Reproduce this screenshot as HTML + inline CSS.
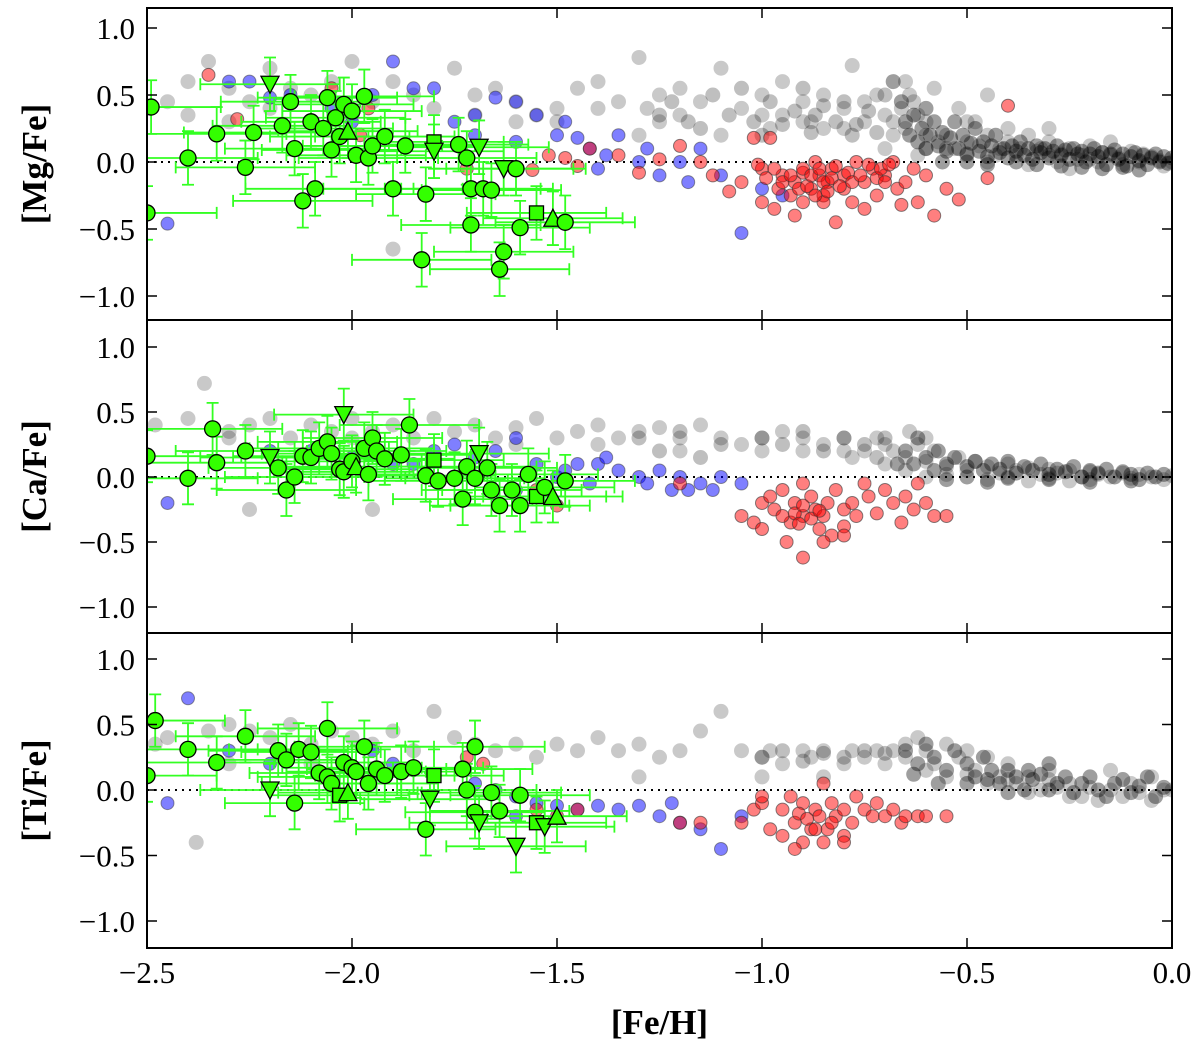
<!DOCTYPE html>
<html><head><meta charset="utf-8"><style>
body{margin:0;background:#fff;}
svg{display:block;font-family:"Liberation Serif",serif;}
</style></head><body>
<svg id="chart" width="1200" height="1047" xmlns="http://www.w3.org/2000/svg"></svg>
<script>
const xTicks=[-2.5,-2.0,-1.5,-1.0,-0.5,0.0];
const xTickLabels=["\u22122.5","\u22122.0","\u22121.5","\u22121.0","\u22120.5","0.0"];
const yTicks=[1.0,0.5,0.0,-0.5,-1.0];
const yTickLabels=["1.0","0.5","0.0","\u22120.5","\u22121.0"];
const panelLabels=["[Mg/Fe]","[Ca/Fe]","[Ti/Fe]"];
const grayMg=[[-2.45,0.45],[-2.4,0.6],[-2.35,0.75],[-2.3,0.55],[-2.25,0.45],[-2.2,0.7],[-2.15,0.55],[-2.1,0.5],[-2.05,0.6],[-2.0,0.75],[-1.95,0.45],[-1.9,0.6],[-1.85,0.5],[-1.8,0.4],[-1.75,0.7],[-1.7,0.5],[-1.65,0.55],[-1.6,0.45],[-1.55,0.35],[-1.5,0.3],[-1.45,0.55],[-1.4,0.6],[-1.35,0.45],[-1.3,0.78],[-1.28,0.4],[-1.25,0.3],[-1.2,0.55],[-1.15,0.45],[-1.1,0.7],[-1.05,0.4],[-1.0,0.5],[-0.98,0.25],[-0.95,0.6],[-0.9,0.45],[-0.88,0.3],[-0.85,0.5],[-0.8,0.4],[-0.78,0.72],[-0.75,0.3],[-0.72,0.5],[-0.7,0.35],[-0.68,0.2],[-0.65,0.6],[-0.63,0.45],[-0.6,0.3],[-0.58,0.55],[-0.55,0.2],[-0.52,0.4],[-0.5,0.15],[-0.48,0.3],[-0.45,0.5],[-0.42,0.1],[-0.4,0.25],[-0.38,0.05],[-0.35,0.2],[-0.32,0.1],[-0.3,0.15],[-0.28,0.0],[-0.25,0.1],[-0.22,0.05],[-0.2,0.12],[-0.18,0.0],[-0.15,0.05],[-0.12,-0.02],[-0.1,0.08],[-0.08,0.0],[-0.05,0.04],[-0.02,-0.03],[0,0.0],[-0.6,0.1],[-0.55,0.1],[-0.65,0.25],[-0.7,0.1],[-0.5,0.05],[-0.45,0.0],[-0.4,0.15],[-0.35,-0.02],[-0.3,0.05],[-0.25,-0.05],[-0.2,0.02],[-1.9,-0.65],[-2.3,0.3],[-2.0,0.35],[-1.7,0.35],[-1.5,0.4],[-1.3,0.2],[-1.2,0.35],[-1.1,0.2],[-0.95,0.35],[-0.85,0.25],[-0.75,0.45],[-0.62,0.35],[-0.6,0.2],[-0.57,0.15],[-0.53,0.1],[-0.47,0.12],[-0.43,0.05],[-0.37,0.1],[-0.33,0.08],[-0.27,0.06],[-0.23,0.02],[-0.17,0.07],[-0.13,0.03],[-0.07,0.06],[-0.03,0.01],[-0.62,0.05],[-0.66,0.4],[-0.64,0.5],[-0.68,0.3],[-0.8,0.25],[-0.9,0.3],[-1.0,0.35],[-1.25,0.5],[-1.4,0.4],[-1.6,0.3],[-2.2,0.4],[-2.4,0.35],[-0.15,0.15],[-0.3,0.25],[-0.45,0.2],[-0.5,0.3]];
const grayMgBand=[[-0.65,0.3],[-0.64,0.2],[-0.63,0.35],[-0.62,0.15],[-0.61,0.25],[-0.6,0.4],[-0.6,0.1],[-0.59,0.2],[-0.58,0.3],[-0.57,0.12],[-0.56,0.22],[-0.55,0.08],[-0.54,0.18],[-0.53,0.3],[-0.52,0.1],[-0.51,0.2],[-0.5,0.06],[-0.49,0.14],[-0.48,0.25],[-0.47,0.08],[-0.46,0.15],[-0.45,0.04],[-0.44,0.12],[-0.43,0.2],[-0.42,0.07],[-0.41,0.1],[-0.4,0.03],[-0.39,0.12],[-0.38,0.08],[-0.37,0.15],[-0.36,0.05],[-0.35,0.1],[-0.34,0.02],[-0.33,0.12],[-0.32,0.07],[-0.31,0.1],[-0.3,0.03],[-0.29,0.08],[-0.28,0.12],[-0.27,0.05],[-0.26,0.09],[-0.25,0.02],[-0.24,0.1],[-0.23,0.06],[-0.22,0.08],[-0.21,0.0],[-0.2,0.06],[-0.19,0.1],[-0.18,0.04],[-0.17,0.07],[-0.16,-0.02],[-0.15,0.06],[-0.14,0.09],[-0.13,0.02],[-0.12,0.06],[-0.11,-0.03],[-0.1,0.04],[-0.09,0.07],[-0.08,0.01],[-0.07,0.05],[-0.06,-0.02],[-0.05,0.03],[-0.04,0.06],[-0.03,0.0],[-0.02,0.04],[-0.01,-0.01],[0,0.03],[-0.56,0.0],[-0.5,0.0],[-0.45,-0.02],[-0.38,0.0],[-0.33,-0.02],[-0.27,-0.03],[-0.22,-0.04],[-0.17,-0.05],[-0.12,-0.04],[-0.08,-0.06],[-1.25,0.35],[-1.22,0.45],[-1.18,0.3],[-1.15,0.25],[-1.12,0.5],[-1.08,0.35],[-1.05,0.55],[-1.02,0.3],[-0.98,0.45],[-0.95,0.28],[-0.92,0.38],[-0.9,0.55],[-0.87,0.35],[-0.85,0.42],[-0.82,0.3],[-0.8,0.45],[-0.77,0.28],[-0.74,0.38],[-0.7,0.5],[-0.68,0.6],[-0.66,0.45],[-0.72,0.22],[-0.78,0.2],[-0.88,0.22],[-1.0,0.2]];
const grayCa=[[-2.48,0.4],[-2.4,0.45],[-2.36,0.72],[-2.3,0.35],[-2.25,0.4],[-2.2,0.45],[-2.15,0.3],[-2.1,0.4],[-2.05,0.35],[-2.0,0.45],[-1.95,0.35],[-1.9,0.4],[-1.85,0.3],[-1.8,0.45],[-1.75,0.35],[-1.7,0.4],[-1.65,0.3],[-1.6,0.38],[-1.55,0.45],[-1.5,0.3],[-1.45,0.35],[-1.4,0.4],[-1.35,0.3],[-1.3,0.35],[-1.25,0.38],[-1.2,0.3],[-1.15,0.4],[-1.1,0.3],[-1.05,0.25],[-1.0,0.3],[-0.95,0.35],[-0.9,0.3],[-0.85,0.25],[-0.8,0.3],[-0.78,0.15],[-0.75,0.2],[-0.72,0.3],[-0.7,0.1],[-0.68,0.2],[-0.65,0.15],[-0.62,0.25],[-0.6,0.12],[-0.58,0.2],[-0.55,0.08],[-0.52,0.15],[-0.5,0.05],[-0.48,0.12],[-0.45,0.08],[-0.42,0.03],[-0.4,0.1],[-0.38,0.05],[-0.35,0.07],[-0.32,0.02],[-0.3,0.06],[-0.28,0.03],[-0.25,0.05],[-0.22,0.0],[-0.2,0.04],[-0.18,0.02],[-0.15,0.0],[-0.12,0.03],[-0.1,-0.01],[-0.08,0.02],[-0.05,0.0],[-0.02,-0.02],[0,0.01],[-2.25,-0.25],[-1.95,-0.25],[-0.65,0.05],[-0.6,0.0],[-0.55,0.02],[-0.45,-0.02],[-0.4,0.0],[-0.35,-0.03],[-0.3,-0.01],[-0.25,-0.03],[-0.2,-0.02],[-0.6,0.3],[-0.64,0.35],[-0.7,0.25],[-0.8,0.2],[-0.9,0.2],[-1.0,0.2],[-1.2,0.2],[-1.4,0.25],[-1.6,0.25],[-2.0,0.3],[-2.3,0.3]];
const grayCaBand=[[-0.65,0.2],[-0.63,0.1],[-0.62,0.3],[-0.6,0.15],[-0.58,0.05],[-0.57,0.2],[-0.55,0.1],[-0.53,0.15],[-0.5,0.08],[-0.48,0.12],[-0.46,0.05],[-0.44,0.1],[-0.42,0.06],[-0.4,0.12],[-0.38,0.03],[-0.36,0.08],[-0.34,0.05],[-0.32,0.1],[-0.3,0.02],[-0.28,0.06],[-0.26,0.04],[-0.24,0.08],[-0.22,0.0],[-0.2,0.05],[-0.18,0.03],[-0.16,0.06],[-0.14,0.0],[-0.12,0.04],[-0.1,0.02],[-0.08,-0.02],[-0.06,0.03],[-0.04,0.0],[-0.02,0.02],[-0.55,-0.02],[-0.5,0.0],[-0.45,-0.04],[-0.4,-0.01],[-0.3,-0.02],[-0.2,-0.04],[-0.1,-0.03],[-1.3,0.3],[-1.2,0.35],[-1.1,0.25],[-1.0,0.3],[-0.95,0.25],[-0.9,0.35],[-0.85,0.2],[-0.8,0.3],[-0.75,0.25],[-0.7,0.3],[-1.25,0.2],[-1.15,0.15],[-0.72,0.15],[-0.67,0.1]];
const grayTi=[[-2.48,0.35],[-2.45,0.4],[-2.38,-0.4],[-2.35,0.45],[-2.3,0.5],[-2.25,0.45],[-2.2,0.4],[-2.15,0.5],[-2.1,0.35],[-2.05,0.45],[-2.0,0.4],[-1.95,0.35],[-1.9,0.45],[-1.85,0.3],[-1.8,0.6],[-1.75,0.4],[-1.7,0.35],[-1.65,0.3],[-1.6,0.35],[-1.55,0.25],[-1.5,0.35],[-1.45,0.3],[-1.4,0.4],[-1.35,0.3],[-1.3,0.35],[-1.25,0.25],[-1.2,0.3],[-1.15,0.45],[-1.1,0.6],[-1.05,0.3],[-1.0,0.25],[-0.98,0.3],[-0.95,0.2],[-0.9,0.3],[-0.88,0.25],[-0.85,0.3],[-0.8,0.2],[-0.78,0.3],[-0.75,0.25],[-0.72,0.3],[-0.7,0.2],[-0.68,0.3],[-0.65,0.25],[-0.62,0.4],[-0.6,0.3],[-0.58,0.2],[-0.55,0.35],[-0.52,0.25],[-0.5,0.3],[-0.48,0.15],[-0.45,0.25],[-0.42,0.1],[-0.4,0.2],[-0.38,0.05],[-0.35,0.1],[-0.32,0.0],[-0.3,0.08],[-0.28,0.02],[-0.25,0.05],[-0.22,-0.05],[-0.2,0.02],[-0.18,-0.08],[-0.15,0.0],[-0.12,-0.05],[-0.1,0.05],[-0.08,-0.02],[-0.05,0.1],[-0.02,0.0],[0,0.0],[-0.55,0.1],[-0.6,0.15],[-0.5,0.12],[-0.45,0.05],[-0.4,0.08],[-0.35,-0.02],[-0.3,0.15],[-0.25,-0.05],[-0.65,0.35],[-0.85,0.1],[-1.0,0.1],[-1.3,0.1],[-2.1,0.2],[-2.3,0.2],[-0.15,0.15],[-0.05,-0.08]];
const grayTiBand=[[-0.65,0.3],[-0.62,0.2],[-0.6,0.35],[-0.58,0.25],[-0.55,0.15],[-0.53,0.3],[-0.5,0.2],[-0.48,0.1],[-0.46,0.25],[-0.44,0.15],[-0.42,0.05],[-0.4,0.15],[-0.38,0.1],[-0.36,0.0],[-0.34,0.08],[-0.32,0.12],[-0.3,0.0],[-0.28,0.05],[-0.26,0.1],[-0.24,-0.02],[-0.22,0.05],[-0.2,0.1],[-0.18,0.0],[-0.16,-0.05],[-0.14,0.05],[-0.12,0.08],[-0.1,-0.02],[-0.08,0.03],[-0.06,0.1],[-0.04,-0.05],[-0.02,0.02],[-0.5,0.05],[-0.45,0.08],[-0.4,-0.02],[-0.35,0.15],[-0.3,0.2],[-1.0,0.25],[-0.95,0.3],[-0.9,0.22],[-0.85,0.28],[-0.8,0.25],[-0.75,0.3],[-0.7,0.28],[-0.63,0.12],[-0.57,0.05]];
const redMg=[[-2.35,0.65],[-2.28,0.32],[-2.05,0.55],[-1.96,0.4],[-1.98,0.2],[-1.72,-0.05],[-1.56,-0.06],[-1.52,0.05],[-1.48,0.03],[-1.45,-0.03],[-1.42,0.1],[-1.35,0.05],[-1.3,-0.08],[-1.25,0.02],[-1.2,0.12],[-1.15,0.0],[-1.12,-0.1],[-1.05,-0.15],[-1.02,0.18],[-1.0,-0.05],[-0.98,0.18],[-0.96,-0.2],[-0.95,-0.1],[-0.93,-0.25],[-0.92,-0.15],[-0.9,-0.08],[-0.9,-0.3],[-0.88,-0.2],[-0.87,0.0],[-0.86,-0.1],[-0.85,-0.25],[-0.84,-0.15],[-0.83,-0.05],[-0.82,-0.45],[-0.8,-0.2],[-0.8,-0.1],[-0.78,-0.3],[-0.77,0.0],[-0.75,-0.15],[-0.73,-0.05],[-0.72,-0.25],[-0.7,-0.1],[-0.68,0.0],[-0.67,-0.2],[-0.65,-0.15],[-0.63,-0.05],[-0.62,-0.3],[-0.6,-0.1],[-0.58,-0.4],[-0.55,-0.2],[-0.52,-0.28],[-0.45,-0.12],[-0.4,0.42],[-1.08,-0.22],[-0.97,-0.35],[-1.0,-0.3],[-0.92,-0.4],[-0.85,-0.3],[-0.75,-0.35],[-0.66,-0.32],[-0.95,-0.15],[-0.93,-0.1],[-0.91,-0.2],[-0.9,-0.05],[-0.89,-0.18],[-0.88,-0.1],[-0.87,-0.25],[-0.86,-0.05],[-0.85,-0.15],[-0.84,-0.22],[-0.83,-0.12],[-0.82,-0.03],[-0.81,-0.18],[-0.79,-0.08],[-0.78,-0.15],[-0.76,-0.1],[-0.74,-0.02],[-0.72,-0.12],[-0.71,-0.05],[-0.7,-0.15],[-0.69,-0.02],[-0.97,-0.05],[-0.99,-0.12],[-1.01,-0.02]];
const blueMg=[[-2.45,-0.46],[-2.3,0.6],[-2.25,0.6],[-2.2,0.48],[-2.15,0.5],[-2.05,0.4],[-2.0,0.3],[-1.95,0.5],[-1.9,0.75],[-1.85,0.55],[-1.8,0.55],[-1.75,0.3],[-1.7,0.35],[-1.65,0.48],[-1.6,0.45],[-1.55,0.35],[-1.5,0.2],[-1.48,0.3],[-1.45,0.18],[-1.42,0.1],[-1.4,-0.05],[-1.38,0.05],[-1.35,0.2],[-1.3,0.0],[-1.28,0.1],[-1.25,-0.1],[-1.2,0.0],[-1.18,-0.15],[-1.15,0.1],[-1.1,-0.1],[-1.05,-0.53],[-1.0,-0.2],[-0.95,-0.25],[-1.7,0.2],[-1.6,0.15]];
const redCa=[[-1.5,-0.22],[-1.55,-0.1],[-1.2,-0.05],[-1.05,-0.3],[-1.02,-0.35],[-1.0,-0.2],[-0.98,-0.15],[-0.97,-0.25],[-0.95,-0.1],[-0.94,-0.5],[-0.93,-0.35],[-0.92,-0.2],[-0.9,-0.62],[-0.9,-0.3],[-0.88,-0.15],[-0.87,-0.25],[-0.86,-0.4],[-0.85,-0.3],[-0.84,-0.2],[-0.83,-0.45],[-0.82,-0.1],[-0.8,-0.25],[-0.8,-0.38],[-0.78,-0.2],[-0.77,-0.3],[-0.75,-0.05],[-0.74,-0.15],[-0.72,-0.28],[-0.7,-0.1],[-0.68,-0.2],[-0.66,-0.35],[-0.65,-0.15],[-0.63,-0.25],[-0.6,-0.2],[-0.58,-0.3],[-0.55,-0.3],[-0.62,-0.05],[-0.9,-0.05],[-0.85,-0.5],[-0.8,-0.45],[-1.0,-0.4],[-0.95,-0.3],[-0.92,-0.28],[-0.9,-0.22],[-0.88,-0.32],[-0.86,-0.26],[-0.91,-0.36]];
const blueCa=[[-2.45,-0.2],[-2.2,0.2],[-2.1,0.2],[-2.0,0.15],[-1.95,0.25],[-1.9,0.1],[-1.85,0.1],[-1.8,0.2],[-1.75,0.25],[-1.7,0.15],[-1.65,0.2],[-1.6,0.3],[-1.55,0.1],[-1.5,0.0],[-1.48,0.05],[-1.45,0.1],[-1.42,-0.05],[-1.4,0.1],[-1.38,0.15],[-1.35,0.05],[-1.3,0.0],[-1.28,-0.05],[-1.25,0.05],[-1.22,-0.1],[-1.2,0.0],[-1.18,-0.1],[-1.15,-0.05],[-1.12,-0.1],[-1.1,0.0],[-1.05,-0.05],[-1.6,-0.1]];
const redTi=[[-1.72,0.25],[-1.68,0.2],[-1.55,-0.15],[-1.5,-0.2],[-1.45,-0.15],[-1.2,-0.25],[-1.15,-0.25],[-1.05,-0.25],[-1.02,-0.15],[-1.0,-0.1],[-0.98,-0.3],[-0.95,-0.15],[-0.93,-0.05],[-0.92,-0.25],[-0.9,-0.4],[-0.9,-0.1],[-0.88,-0.3],[-0.87,-0.15],[-0.86,-0.2],[-0.85,0.05],[-0.84,-0.3],[-0.83,-0.1],[-0.82,-0.2],[-0.8,-0.15],[-0.8,-0.35],[-0.78,-0.25],[-0.77,-0.05],[-0.75,-0.15],[-0.73,-0.2],[-0.72,-0.1],[-0.7,-0.2],[-0.68,-0.15],[-0.66,-0.25],[-0.65,-0.2],[-0.62,-0.2],[-0.6,-0.2],[-0.55,-0.2],[-0.92,-0.45],[-0.85,-0.4],[-0.8,-0.4],[-1.0,-0.05],[-0.95,-0.35],[-0.91,-0.18],[-0.89,-0.22],[-0.87,-0.3],[-0.83,-0.25]];
const blueTi=[[-2.45,-0.1],[-2.4,0.7],[-2.3,0.3],[-2.2,0.2],[-2.0,0.15],[-1.95,0.3],[-1.9,0.2],[-1.85,0.15],[-1.8,0.1],[-1.7,0.05],[-1.65,0.0],[-1.6,-0.05],[-1.55,-0.1],[-1.5,-0.12],[-1.45,-0.15],[-1.4,-0.12],[-1.35,-0.15],[-1.3,-0.12],[-1.25,-0.2],[-1.22,-0.1],[-1.2,-0.25],[-1.15,-0.3],[-1.1,-0.45],[-1.05,-0.2],[-1.6,-0.2]];
const greenMg=[[-2.49,0.41,"o"],[-2.5,-0.38,"o"],[-2.4,0.03,"o"],[-2.33,0.21,"o"],[-2.26,-0.04,"o"],[-2.24,0.22,"o"],[-2.2,0.58,"v"],[-2.17,0.27,"o"],[-2.15,0.45,"o"],[-2.14,0.1,"o"],[-2.12,-0.29,"o"],[-2.1,0.3,"o"],[-2.09,-0.2,"o"],[-2.07,0.25,"o"],[-2.06,0.48,"o"],[-2.05,0.09,"o"],[-2.04,0.33,"o"],[-2.03,0.19,"o"],[-2.02,0.43,"o"],[-2.01,0.23,"^"],[-2.0,0.38,"o"],[-1.99,0.05,"o"],[-1.97,0.49,"o"],[-1.96,0.03,"o"],[-1.95,0.12,"o"],[-1.92,0.19,"o"],[-1.9,-0.2,"o"],[-1.87,0.12,"o"],[-1.83,-0.73,"o"],[-1.82,-0.24,"o"],[-1.8,0.15,"s"],[-1.8,0.08,"v"],[-1.74,0.13,"o"],[-1.72,0.03,"o"],[-1.71,-0.2,"o"],[-1.71,-0.47,"o"],[-1.69,0.11,"v"],[-1.68,-0.2,"o"],[-1.66,-0.21,"o"],[-1.64,-0.8,"o"],[-1.63,-0.67,"o"],[-1.63,-0.05,"v"],[-1.6,-0.05,"o"],[-1.59,-0.49,"o"],[-1.55,-0.38,"s"],[-1.51,-0.42,"^"],[-1.48,-0.45,"o"]];
const greenCa=[[-2.5,0.16,"o"],[-2.4,-0.01,"o"],[-2.34,0.37,"o"],[-2.33,0.11,"o"],[-2.26,0.2,"o"],[-2.2,0.15,"v"],[-2.18,0.07,"o"],[-2.16,-0.1,"o"],[-2.14,0.0,"o"],[-2.12,0.16,"o"],[-2.1,0.15,"o"],[-2.08,0.22,"o"],[-2.06,0.27,"o"],[-2.05,0.18,"o"],[-2.03,0.06,"o"],[-2.02,0.04,"o"],[-2.02,0.48,"v"],[-2.0,0.12,"o"],[-1.99,0.08,"^"],[-1.97,0.22,"o"],[-1.96,0.02,"o"],[-1.95,0.3,"o"],[-1.94,0.2,"o"],[-1.92,0.14,"o"],[-1.88,0.17,"o"],[-1.86,0.4,"o"],[-1.82,0.01,"o"],[-1.8,0.13,"s"],[-1.79,-0.03,"o"],[-1.75,-0.01,"o"],[-1.73,-0.17,"o"],[-1.72,0.08,"o"],[-1.7,-0.01,"o"],[-1.69,0.18,"v"],[-1.67,0.07,"o"],[-1.66,-0.1,"o"],[-1.64,-0.22,"o"],[-1.61,-0.1,"o"],[-1.59,-0.22,"o"],[-1.57,0.02,"o"],[-1.55,-0.15,"s"],[-1.53,-0.08,"o"],[-1.51,-0.15,"^"],[-1.48,-0.03,"o"]];
const greenTi=[[-2.5,0.11,"o"],[-2.48,0.53,"o"],[-2.4,0.31,"o"],[-2.33,0.21,"o"],[-2.26,0.41,"o"],[-2.2,0.0,"v"],[-2.18,0.3,"o"],[-2.16,0.23,"o"],[-2.14,-0.1,"o"],[-2.13,0.31,"o"],[-2.1,0.29,"o"],[-2.08,0.13,"o"],[-2.06,0.47,"o"],[-2.06,0.1,"o"],[-2.05,0.05,"o"],[-2.03,-0.04,"s"],[-2.02,0.21,"o"],[-2.01,-0.02,"^"],[-2.0,0.17,"o"],[-1.99,0.14,"o"],[-1.97,0.33,"o"],[-1.96,0.05,"o"],[-1.94,0.16,"o"],[-1.92,0.11,"o"],[-1.88,0.14,"o"],[-1.85,0.17,"o"],[-1.82,-0.3,"o"],[-1.8,0.11,"s"],[-1.81,-0.07,"v"],[-1.73,0.16,"o"],[-1.72,0.0,"o"],[-1.7,-0.17,"o"],[-1.7,0.33,"o"],[-1.69,-0.25,"v"],[-1.66,-0.02,"o"],[-1.64,-0.16,"o"],[-1.6,-0.43,"v"],[-1.59,-0.04,"o"],[-1.55,-0.25,"s"],[-1.53,-0.28,"v"],[-1.5,-0.2,"^"]];
const xErr=0.17, yErr=0.2;

const NS="http://www.w3.org/2000/svg";
const svg=document.getElementById('chart');
const L=147,R=1172;
const panels=[{top:8,bot:320,zero:162,unit:134},{top:320,bot:633,zero:477,unit:130},{top:633,bot:948,zero:790,unit:131}];
const X=v=>L+(v+2.5)/2.5*(R-L);
function mk(tag,at,parent){const e=document.createElementNS(NS,tag);for(const k in at)e.setAttribute(k,at[k]);(parent||svg).appendChild(e);return e;}
const grays=[grayMg,grayCa,grayTi],bands=[grayMgBand,grayCaBand,grayTiBand],reds=[redMg,redCa,redTi],blues=[blueMg,blueCa,blueTi],greens=[greenMg,greenCa,greenTi];
panels.forEach((p,i)=>{
  const Y=v=>p.zero-v*p.unit;
  const g=mk('g',{});
  
  
  const cp=mk('clipPath',{id:'c'+i},g);mk('rect',{x:L,y:p.top,width:R-L,height:p.bot-p.top},cp);
  const d=mk('g',{'clip-path':'url(#c'+i+')'},g);
  mk('line',{x1:L,x2:R,y1:Y(0),y2:Y(0),stroke:'#000','stroke-width':2,'stroke-dasharray':'2 5'},d);
  grays[i].forEach(q=>{const c=mk('circle',{cx:X(q[0]),cy:Y(q[1]),r:7.5,fill:'#000','fill-opacity':0.21},d);
    
    });
  bands[i].forEach(q=>{const c=mk('circle',{cx:X(q[0]),cy:Y(q[1]),r:7.5,fill:'#000','fill-opacity':(q[0]>-0.7?0.38:0.25)},d);
    
    });
  blues[i].forEach(q=>{const c=mk('circle',{cx:X(q[0]),cy:Y(q[1]),r:6.5,fill:'#0000ff','fill-opacity':0.5,stroke:'#333','stroke-opacity':0.5},d);
    
    });
  reds[i].forEach(q=>{const c=mk('circle',{cx:X(q[0]),cy:Y(q[1]),r:6.5,fill:'#ff0000','fill-opacity':0.5,stroke:'#333','stroke-opacity':0.6},d);
    
    });
  greens[i].forEach(q=>{const x=X(q[0]),y=Y(q[1]);
    const x1=X(q[0]-xErr),x2=X(q[0]+xErr),y1=Y(q[1]+yErr),y2=Y(q[1]-yErr);
    const eb=mk('path',{d:`M${x1},${y}H${x2}M${x},${y1}V${y2}M${x1},${y-6}v12M${x2},${y-6}v12M${x-6},${y1}h12M${x-6},${y2}h12`,stroke:'#33ff22','stroke-width':1.8,fill:'none'},d);
    
    });
  greens[i].forEach(q=>{const x=X(q[0]),y=Y(q[1]);let m;const st={fill:'#33ff00',stroke:'#000','stroke-width':1.3};
    if(q[2]==='o')m=mk('circle',Object.assign({cx:x,cy:y,r:8},st),d);
    else if(q[2]==='s')m=mk('rect',Object.assign({x:x-7,y:y-7,width:14,height:14},st),d);
    else if(q[2]==='v')m=mk('polygon',Object.assign({points:`${x-9},${y-8} ${x+9},${y-8} ${x},${y+9}`},st),d);
    else m=mk('polygon',Object.assign({points:`${x-9},${y+8} ${x+9},${y+8} ${x},${y-9}`},st),d);
    
    });
  mk('rect',{x:L,y:p.top,width:R-L,height:p.bot-p.top,fill:'none',stroke:'#000','stroke-width':2},g);
  yTicks.forEach((t,j)=>{const y=Y(t);
    mk('line',{x1:L,x2:L+10,y1:y,y2:y,stroke:'#000','stroke-width':1.5},g);
    mk('line',{x1:R-10,x2:R,y1:y,y2:y,stroke:'#000','stroke-width':1.5},g);
    const tx=mk('text',{x:L-12,y:y+11,'text-anchor':'end','font-size':31},g);tx.textContent=yTickLabels[j];
    
    });
  xTicks.forEach(t=>{const x=X(t);
    mk('line',{x1:x,x2:x,y1:p.bot,y2:p.bot-10,stroke:'#000','stroke-width':1.5},g);
    mk('line',{x1:x,x2:x,y1:p.top,y2:p.top+10,stroke:'#000','stroke-width':1.5},g);});
  const yl=mk('text',{x:0,y:0,'text-anchor':'middle','font-size':35,'font-weight':'bold',transform:`translate(46,${(p.top+p.bot)/2}) rotate(-90)`},g);
  yl.textContent=panelLabels[i];
  
  
});
xTicks.forEach((t,j)=>{const tx=mk('text',{x:X(t),y:983,'text-anchor':'middle','font-size':31});tx.textContent=xTickLabels[j];
  
  });
const xl=mk('text',{x:(L+R)/2,y:1034,'text-anchor':'middle','font-size':35,'font-weight':'bold'});xl.textContent='[Fe/H]';


</script>
</body></html>
